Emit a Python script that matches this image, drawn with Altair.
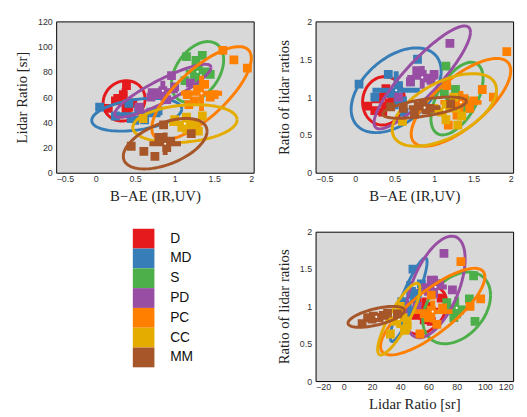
import numpy as np
import pandas as pd
import altair as alt

classes = ["D", "MD", "S", "PD", "PC", "CC", "MM"]
colors = ["#e41a1c", "#377eb8", "#4daf4a", "#984ea3", "#ff7f00", "#e5ac00", "#a65628"]

# individual measurements per class: B-AE, lidar ratio, ratio of lidar ratios
D_BAE = [0.39, 0.28, 0.16, 0.42, 0.35, 0.47, 0.25, 0.40]
D_LR = [69, 59, 51, 52, 62, 55, 57, 48]
D_RAT = [1.11, 1.00, 0.88, 1.05, 0.80, 0.95, 0.82, 0.90]

MD_BAE = [0.05, 0.79, 0.25, 0.45, 0.55, 0.60, 0.70, 0.42, 0.62]
MD_LR = [52, 49, 45, 43, 50, 45, 48, 55, 42]
MD_RAT = [1.17, 1.50, 1.00, 1.05, 1.15, 0.95, 1.20, 1.30, 0.80]

S_BAE = [1.15, 1.27, 1.30, 1.40, 1.13, 1.45, 1.35, 1.25]
S_LR = [92, 89, 82, 80, 73, 78, 93, 75]
S_RAT = [1.41, 1.10, 0.95, 0.90, 1.05, 0.85, 0.80, 0.95]

PD_BAE = [1.20, 0.96, 0.85, 0.78, 0.90, 0.55, 1.00, 0.70]
PD_LR = [71, 77, 65, 62, 58, 52, 68, 60]
PD_RAT = [1.71, 1.22, 1.30, 1.35, 1.25, 1.00, 1.30, 1.20]

PC_BAE = [1.92, 1.61, 1.75, 1.16, 1.18, 1.29, 1.45, 1.38, 1.25, 1.50]
PC_LR = [83, 97, 89.5, 62, 54, 66, 60, 70, 57, 62]
PC_RAT = [1.60, 1.10, 1.00, 1.15, 0.63, 0.76, 0.85, 0.98, 0.90, 0.95]

CC_BAE = [0.60, 1.30, 1.09, 1.20, 1.35, 1.00, 1.25, 1.15]
CC_LR = [43, 33, 36, 38, 45, 42, 40, 44]
CC_RAT = [0.68, 0.63, 0.80, 0.90, 0.75, 0.85, 1.00, 0.70]

MM_BAE = [0.45, 0.86, 0.75, 1.21, 0.90, 0.80, 0.95, 0.61]
MM_LR = [21, 38, 13, 31, 20, 28, 25, 17]
MM_RAT = [0.87, 0.90, 0.77, 0.91, 0.83, 0.88, 0.85, 0.85]

# class means and error bars (std)
mean_bae = [0.36, 0.52, 1.29, 0.85, 1.34, 1.13, 0.88]
mean_lr = [57, 46, 80, 65, 63, 39, 23]
mean_rat = [0.95, 1.09, 0.98, 1.26, 0.93, 0.83, 0.86]
std_bae = [0.15, 0.30, 0.15, 0.19, 0.26, 0.20, 0.20]
std_lr = [10, 8, 11, 8, 14, 8, 9]
std_rat = [0.17, 0.25, 0.15, 0.15, 0.15, 0.12, 0.05]

# ellipse half-extents and tilt (correlation) for each panel
ell_bae = [0.265, 0.57, 0.33, 0.61, 0.63, 0.66, 0.53]
ell_lr = [16, 13, 24, 21, 37, 15, 20]
ell_rat = [0.32, 0.56, 0.48, 0.68, 0.58, 0.48, 0.14]
rho_p1 = [0.10, 0.35, 0.40, 0.88, 0.75, 0.20, 0.50]
rho_p2 = [0.05, 0.45, 0.55, 0.88, 0.72, 0.55, 0.60]
rho_p3 = [0.30, 0.90, 0.35, 0.55, 0.80, 0.85, 0.60]

pts = {
    "D": (D_BAE, D_LR, D_RAT), "MD": (MD_BAE, MD_LR, MD_RAT), "S": (S_BAE, S_LR, S_RAT),
    "PD": (PD_BAE, PD_LR, PD_RAT), "PC": (PC_BAE, PC_LR, PC_RAT), "CC": (CC_BAE, CC_LR, CC_RAT),
    "MM": (MM_BAE, MM_LR, MM_RAT),
}
means = (mean_bae, mean_lr, mean_rat)
stds = (std_bae, std_lr, std_rat)
ells = (ell_bae, ell_lr, ell_rat)

color_scale = alt.Scale(domain=classes, range=colors)
LABEL_FONT = "Liberation Sans"
TITLE_FONT = "Liberation Serif"


def axis(title, values, label_pad, title_pad):
    return alt.Axis(title=title, values=values, format=".2~f", grid=False, domain=False,
                    ticks=False, labelFont=LABEL_FONT, labelFontSize=9, labelColor="#333",
                    labelPadding=label_pad, titleFont=TITLE_FONT, titleFontSize=15,
                    titleFontWeight="normal", titleColor="#222", titlePadding=title_pad,
                    labelOverlap=False)


def panel(xi, yi, xdom, ydom, xvals, yvals, xtitle, ytitle, rhos, h):
    xs = alt.Scale(domain=xdom, nice=False, zero=False)
    ys = alt.Scale(domain=ydom, nice=False, zero=False)
    X = lambda f: alt.X(f, type="quantitative", scale=xs, axis=axis(xtitle, xvals, 2, 5))
    Y = lambda f: alt.Y(f, type="quantitative", scale=ys, axis=axis(ytitle, yvals, 4, 8))
    col = alt.Color("cls:N", scale=color_scale, legend=None)
    layers = []
    t = np.linspace(0, 2 * np.pi, 91)
    for i, c in enumerate(classes):
        cx, cy = means[xi][i], means[yi][i]
        sx, sy = ells[xi][i], ells[yi][i]
        r = rhos[i]
        e = pd.DataFrame({
            "cls": c, "o": np.arange(len(t)),
            "x": cx + sx * np.cos(t),
            "y": cy + sy * (r * np.cos(t) + np.sqrt(1 - r * r) * np.sin(t)),
        })
        p = pd.DataFrame({"cls": c, "x": pts[c][xi], "y": pts[c][yi]})
        m = pd.DataFrame({
            "cls": [c], "x": [cx], "y": [cy],
            "x0": [cx - stds[xi][i]], "x1": [cx + stds[xi][i]],
            "y0": [cy - stds[yi][i]], "y1": [cy + stds[yi][i]],
        })
        layers.append(alt.Chart(p).mark_square(size=80, opacity=1, clip=True)
                      .encode(x=X("x"), y=Y("y"), color=col))
        layers.append(alt.Chart(m).mark_rule(strokeWidth=5, clip=True)
                      .encode(x=X("x0"), x2="x1", y=Y("y"), color=col))
        layers.append(alt.Chart(m).mark_rule(strokeWidth=5, clip=True)
                      .encode(x=X("x"), y=Y("y0"), y2="y1", color=col))
        layers.append(alt.Chart(m).mark_circle(size=5, color="white", opacity=1)
                      .encode(x=X("x"), y=Y("y")))
        layers.append(alt.Chart(e).mark_line(strokeWidth=3, clip=True)
                      .encode(x=X("x"), y=Y("y"), order="o:Q", color=col))
    return alt.layer(*layers).properties(
        width=201, height=h,
        view=alt.ViewBackground(fill="#d8d8d8", stroke="black", strokeWidth=1),
    )


bae_ticks = [-0.5, 0, 0.5, 1, 1.5, 2]
lr_ticks = [0, 20, 40, 60, 80, 100, 120]
lr_ticks3 = [-20, 0, 20, 40, 60, 80, 100, 120]
rat_ticks = [0, 0.5, 1, 1.5, 2]

p1 = panel(0, 1, [-0.5, 2], [0, 120], bae_ticks, lr_ticks, "B\u2212AE (IR,UV)", "Lidar Ratio [sr]", rho_p1, 154)
p2 = panel(0, 2, [-0.5, 2], [0, 2], bae_ticks, rat_ticks, "B\u2212AE (IR,UV)", "Ratio of lidar ratios", rho_p2, 154)
p3 = panel(1, 2, [-20, 120], [0, 2], lr_ticks3, rat_ticks, "Lidar Ratio [sr]", "Ratio of lidar ratios", rho_p3, 152)

leg_df = pd.DataFrame({"cls": classes})
leg_y = alt.Y("cls:N", sort=classes, axis=None,
              scale=alt.Scale(domain=classes, paddingInner=0, paddingOuter=0, range=[-3, 138]))
leg_rect = alt.Chart(leg_df).mark_rect().encode(
    y=leg_y, x=alt.value(78), x2=alt.value(100),
    color=alt.Color("cls:N", scale=color_scale, legend=None))
leg_text = alt.Chart(leg_df).mark_text(align="left", baseline="middle", font=LABEL_FONT,
                                       fontSize=14, color="#111").encode(
    y=leg_y, x=alt.value(116), text="cls:N")
leg = alt.layer(leg_rect, leg_text).properties(
    width=201, height=152, view=alt.ViewBackground(strokeWidth=0))

chart = alt.concat(p1, p2, leg, p3, columns=2, bounds="flush",
                   spacing={"row": 60, "column": 63}).properties(
    padding={"left": 6, "top": 5, "right": 5, "bottom": 5},
    background="white",
)

chart.save("out.html", embed_options={"renderer": "svg", "actions": False})
